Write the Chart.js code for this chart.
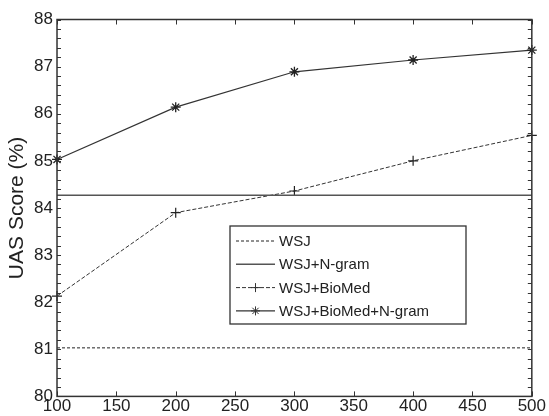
<!DOCTYPE html>
<html>
<head>
<meta charset="utf-8">
<script src="https://cdn.jsdelivr.net/npm/chart.js@4.4.0/dist/chart.umd.min.js"></script>
<style>
html, body { margin: 0; padding: 0; background: #fff; }
#wrap { width: 549px; height: 416px; }
</style>
</head>
<body>
<div id="wrap"><canvas id="c" width="549" height="416"></canvas></div>
<script>
// values
var sizes = [100, 200, 300, 400, 500];
var wsj = [81.03, 81.03, 81.03, 81.03, 81.03];
var wsjNgram = [84.27, 84.27, 84.27, 84.27, 84.27];
var wsjBio = [82.13, 83.90, 84.36, 85.00, 85.54];
var wsjBioNgram = [85.03, 86.14, 86.89, 87.14, 87.35];
var names = ['WSJ', 'WSJ+N-gram', 'WSJ+BioMed', 'WSJ+BioMed+N-gram'];
var xTicks = [100, 150, 200, 250, 300, 350, 400, 450, 500];
var yTicks = [80, 81, 82, 83, 84, 85, 86, 87, 88];

var axisColor = '#333';
var font = "'Liberation Sans', Arial, sans-serif";

function pts(ys) {
	return sizes.map(function(x, i) { return {x: x, y: ys[i]}; });
}

// frame, inward ticks and the boxed legend
var framePlugin = {
	id: 'frame',
	afterDraw: function(chart) {
		var ctx = chart.ctx, a = chart.chartArea;
		var xs = chart.scales.x, ys = chart.scales.y;
		ctx.save();
		ctx.strokeStyle = axisColor;
		ctx.lineWidth = 1;
		// ticks on x (top and bottom)
		xTicks.forEach(function(v) {
			var px = Math.round(xs.getPixelForValue(v)) + 0.5;
			ctx.beginPath();
			ctx.moveTo(px, a.bottom); ctx.lineTo(px, a.bottom - 5);
			ctx.moveTo(px, a.top); ctx.lineTo(px, a.top + 5);
			ctx.stroke();
		});
		// major + minor ticks on y (left and right)
		for (var k = 0; k <= 40; k++) {
			var v = 80 + k * 0.2;
			var py = Math.round(ys.getPixelForValue(v)) + 0.5;
			ctx.beginPath();
			ctx.moveTo(a.left, py); ctx.lineTo(a.left + 4, py);
			ctx.moveTo(a.right, py); ctx.lineTo(a.right - 4, py);
			ctx.stroke();
		}
		ctx.lineWidth = 1.5;
		ctx.strokeRect(a.left, a.top, a.right - a.left, a.bottom - a.top);

		// legend box
		var bx = 230, by = 226, bw = 236, bh = 98, row = 23.3;
		ctx.fillStyle = '#fff';
		ctx.fillRect(bx, by, bw, bh);
		ctx.lineWidth = 1.3;
		ctx.strokeRect(bx, by, bw, bh);
		ctx.font = '15px ' + font;
		ctx.textBaseline = 'middle';
		chart.data.datasets.forEach(function(ds, i) {
			var cy = by + 15 + i * row;
			ctx.strokeStyle = ds.borderColor;
			ctx.lineWidth = ds.borderWidth;
			ctx.setLineDash(ds.borderDash || []);
			ctx.beginPath();
			ctx.moveTo(bx + 6, cy); ctx.lineTo(bx + 45, cy);
			ctx.stroke();
			ctx.setLineDash([]);
			var mx = bx + 25.5, r = 4.5;
			if (ds.pointStyle === 'cross' || ds.pointStyle === 'star') {
				ctx.lineWidth = 1;
				ctx.beginPath();
				ctx.moveTo(mx - r, cy); ctx.lineTo(mx + r, cy);
				ctx.moveTo(mx, cy - r); ctx.lineTo(mx, cy + r);
				if (ds.pointStyle === 'star') {
					var d = r * 0.7;
					ctx.moveTo(mx - d, cy - d); ctx.lineTo(mx + d, cy + d);
					ctx.moveTo(mx - d, cy + d); ctx.lineTo(mx + d, cy - d);
				}
				ctx.stroke();
			}
			ctx.fillStyle = '#222';
			ctx.fillText(names[i], bx + 49, cy + 1);
		});
		ctx.restore();
	}
};

new Chart(document.getElementById('c'), {
	type: 'line',
	data: {
		datasets: [
			{label: names[0], data: pts(wsj), borderColor: '#222', borderWidth: 1, borderDash: [3, 2], pointRadius: 0},
			{label: names[1], data: pts(wsjNgram), borderColor: '#555', borderWidth: 1.5, pointRadius: 0},
			{label: names[2], data: pts(wsjBio), borderColor: '#333', borderWidth: 1, borderDash: [4, 2],
				pointStyle: 'cross', pointRadius: 5, pointBorderWidth: 1.2, pointBorderColor: '#222'},
			{label: names[3], data: pts(wsjBioNgram), borderColor: '#333', borderWidth: 1.2,
				pointStyle: 'star', pointRadius: 5, pointBorderWidth: 1.3, pointBorderColor: '#222'}
		]
	},
	options: {
		responsive: false,
		devicePixelRatio: 1,
		animation: false,
		clip: false,
		layout: {autoPadding: false, padding: {left: 6, top: 19.5, right: 15, bottom: 0}},
		plugins: {legend: {display: false}, tooltip: {enabled: false}},
		scales: {
			x: {
				type: 'linear', min: 100, max: 500,
				afterBuildTicks: function(s) { s.ticks = xTicks.map(function(v) { return {value: v}; }); },
				grid: {display: false, drawTicks: false},
				border: {display: false},
				ticks: {color: '#222', padding: 3, font: {family: font, size: 17, lineHeight: 0.8}, maxRotation: 0}
			},
			y: {
				type: 'linear', min: 80, max: 88,
				afterBuildTicks: function(s) { s.ticks = yTicks.map(function(v) { return {value: v}; }); },
				grid: {display: false, drawTicks: false},
				border: {display: false},
				ticks: {color: '#222', padding: 4, font: {family: font, size: 17, lineHeight: 1}},
				title: {display: true, text: 'UAS Score (%)', color: '#222',
					font: {family: font, size: 21, lineHeight: 1.1}, padding: {top: 0, bottom: 1}}
			}
		}
	},
	plugins: [framePlugin]
});
</script>
</body>
</html>
